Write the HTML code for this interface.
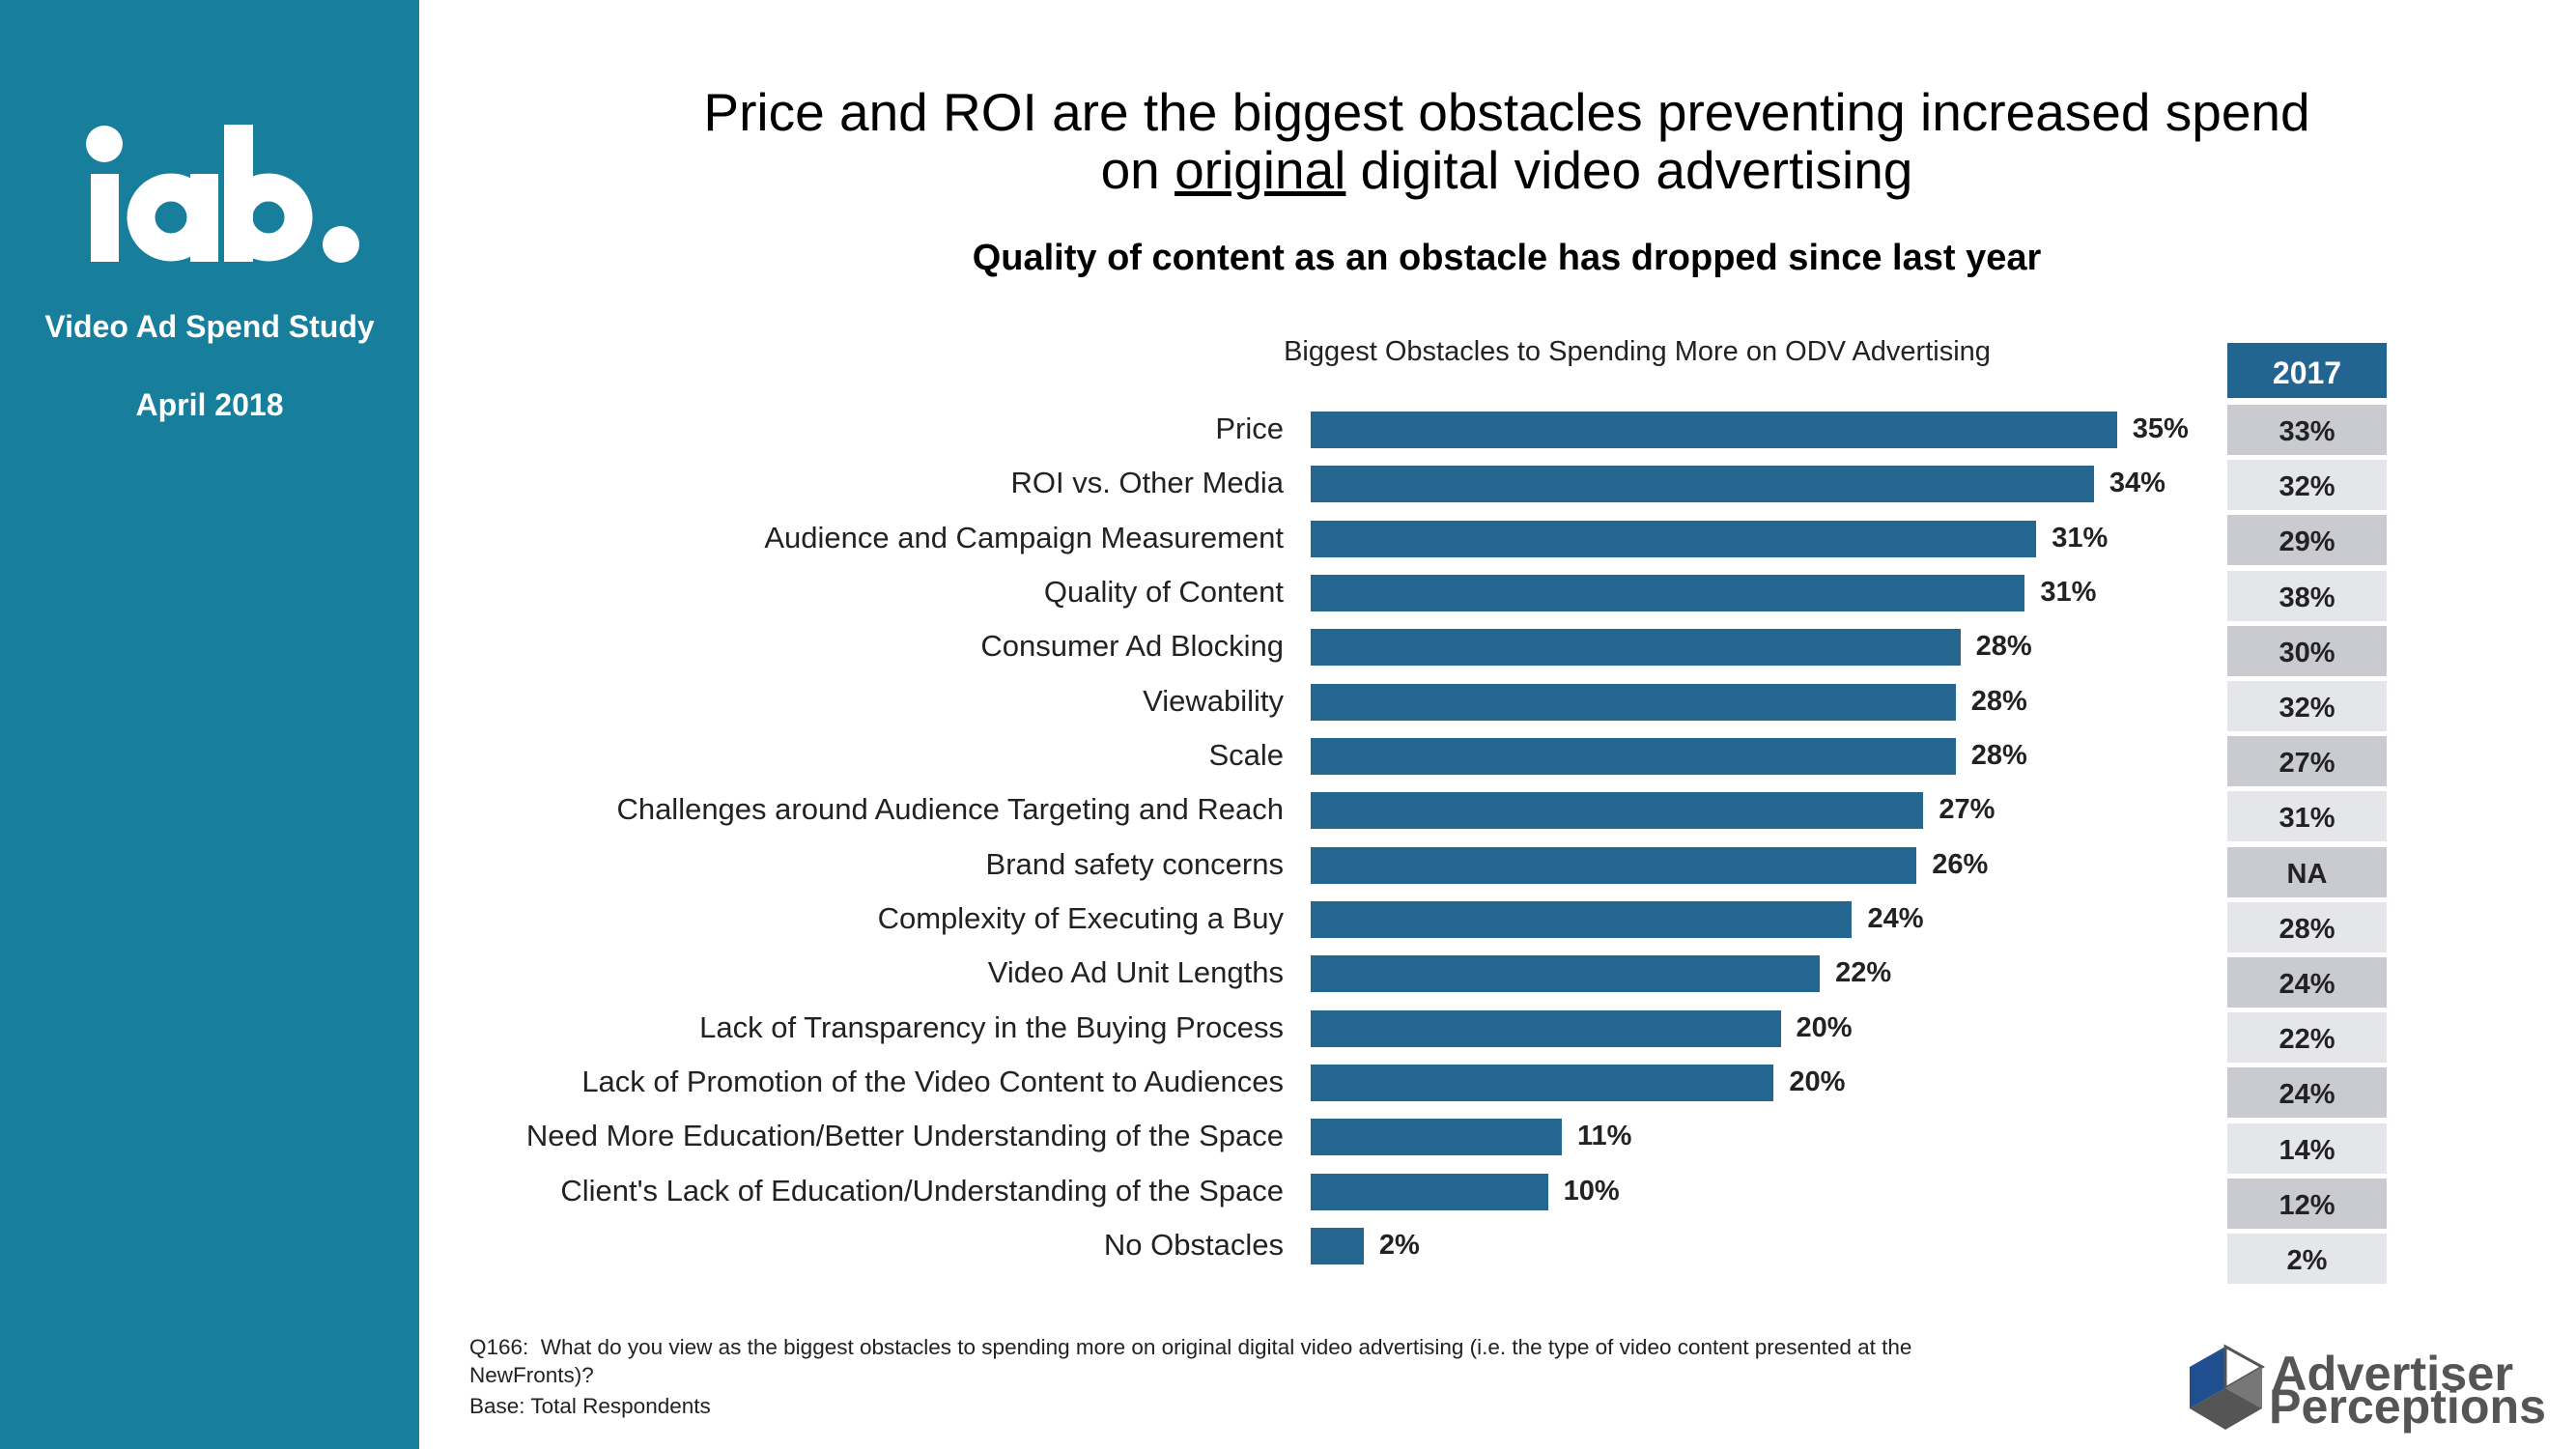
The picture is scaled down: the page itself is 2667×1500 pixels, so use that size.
<!DOCTYPE html>
<html><head><meta charset="utf-8"><style>
body{margin:0;width:2667px;height:1500px;background:#fff;font-family:"Liberation Sans",sans-serif;position:relative;overflow:hidden}
.abs{position:absolute}
</style></head><body>
<div class="abs" style="left:0;top:0;width:434px;height:1500px;background:#177f9b"></div>
<svg class="abs" style="left:0;top:0" width="434" height="300">
<g fill="#fff"><circle cx="108" cy="149" r="19"/><rect x="94" y="180" width="29" height="91"/>
<circle cx="177" cy="225" r="31" fill="none" stroke="#fff" stroke-width="29"/><rect x="197" y="180" width="29" height="91"/>
<rect x="232" y="129" width="30" height="142"/><circle cx="278" cy="225" r="31" fill="none" stroke="#fff" stroke-width="29"/>
<circle cx="353" cy="253" r="19"/></g></svg>
<div class="abs" style="left:0;width:434px;top:320px;text-align:center;color:#fff;font-weight:bold;font-size:32px">Video Ad Spend Study</div>
<div class="abs" style="left:0;width:434px;top:401px;text-align:center;color:#fff;font-weight:bold;font-size:32px">April 2018</div>
<div class="abs" style="left:560px;width:2000px;top:86px;text-align:center;font-size:55px;line-height:60px;color:#000">Price and ROI are the biggest obstacles preventing increased spend<br>on <u>original</u> digital video advertising</div>
<div class="abs" style="left:560px;width:2000px;top:246px;text-align:center;font-size:38px;font-weight:bold">Quality of content as an obstacle has dropped since last year</div>
<div class="abs" style="left:1195px;width:1000px;top:348px;text-align:center;font-size:29px;color:#222">Biggest Obstacles to Spending More on ODV Advertising</div>
<div id="chart"></div>
<div class="abs" style="left:486px;top:1380px;width:1510px;font-size:22.5px;line-height:29px;color:#222">Q166:&nbsp; What do you view as the biggest obstacles to spending more on original digital video advertising (i.e. the type of video content presented at the NewFronts)?<br><span style="line-height:36px">Base: Total Respondents</span></div>
<svg class="abs" style="left:2260px;top:1385px" width="400" height="110">
<polygon points="7,30 44,9 44,52 7,73" fill="#1f4f8e"/><polygon points="44,9 82,30 44,52" fill="#fff" stroke="#555" stroke-width="3"/>
<polygon points="7,73 44,52 82,73 44,95" fill="#555"/><polygon points="44,52 82,30 82,73" fill="#777"/>
<text x="92" y="54" font-family="Liberation Sans" font-weight="bold" font-size="50" fill="#555" textLength="250" lengthAdjust="spacingAndGlyphs">Advertiser</text>
<text x="89" y="88" font-family="Liberation Sans" font-weight="bold" font-size="50" fill="#555" textLength="287" lengthAdjust="spacingAndGlyphs">Perceptions</text></svg>
<script>
const categories=["Price","ROI vs. Other Media","Audience and Campaign Measurement","Quality of Content","Consumer Ad Blocking","Viewability","Scale","Challenges around Audience Targeting and Reach","Brand safety concerns","Complexity of Executing a Buy","Video Ad Unit Lengths","Lack of Transparency in the Buying Process","Lack of Promotion of the Video Content to Audiences","Need More Education/Better Understanding of the Space","Client's Lack of Education/Understanding of the Space","No Obstacles"];
const values2018=[35,34,31.5,31,28.2,28,28,26.6,26.3,23.5,22.1,20.4,20.1,10.9,10.3,2.3];
const labels2018=["35%","34%","31%","31%","28%","28%","28%","27%","26%","24%","22%","20%","20%","11%","10%","2%"];
const labels2017=["33%","32%","29%","38%","30%","32%","27%","31%","NA","28%","24%","22%","24%","14%","12%","2%"];
const c=document.getElementById('chart');
const x0=1357,pxPer=23.85,y0=445,step=56.33;
const xs=v=>v*pxPer, ys=i=>y0+i*step;
function add(){const d=document.createElement('div');d.className='abs';c.appendChild(d);return d;}
categories.forEach((cat,i)=>{
 const y=ys(i);
 const l=add();
 
 
 l.style.cssText=`right:${2667-1329}px;top:${y-19}px;font-size:31px;color:#222;white-space:nowrap`;l.textContent=cat;
 const b=add();
 
 
 b.style.cssText=`left:${x0}px;top:${y-19}px;width:${xs(values2018[i])}px;height:38px;background:#246690`;
 const v=add();
 
 
 v.style.cssText=`left:${x0+xs(values2018[i])+16}px;top:${y-17}px;font-size:29px;font-weight:bold;color:#222`;v.textContent=labels2018[i];
 const cell=add();
 
 
 cell.style.cssText=`left:2306px;top:${419+i*57.2}px;width:165px;height:52px;background:${i%2?'#e5e6ea':'#c9cbd1'};text-align:center;line-height:56px;font-size:29px;font-weight:bold;color:#222`;cell.textContent=labels2017[i];
});
const h=add();


h.style.cssText='left:2306px;top:355px;width:165px;height:57px;background:#236591;color:#fff;text-align:center;line-height:62px;font-size:32px;font-weight:bold';h.textContent='2017';
</script>
</body></html>
